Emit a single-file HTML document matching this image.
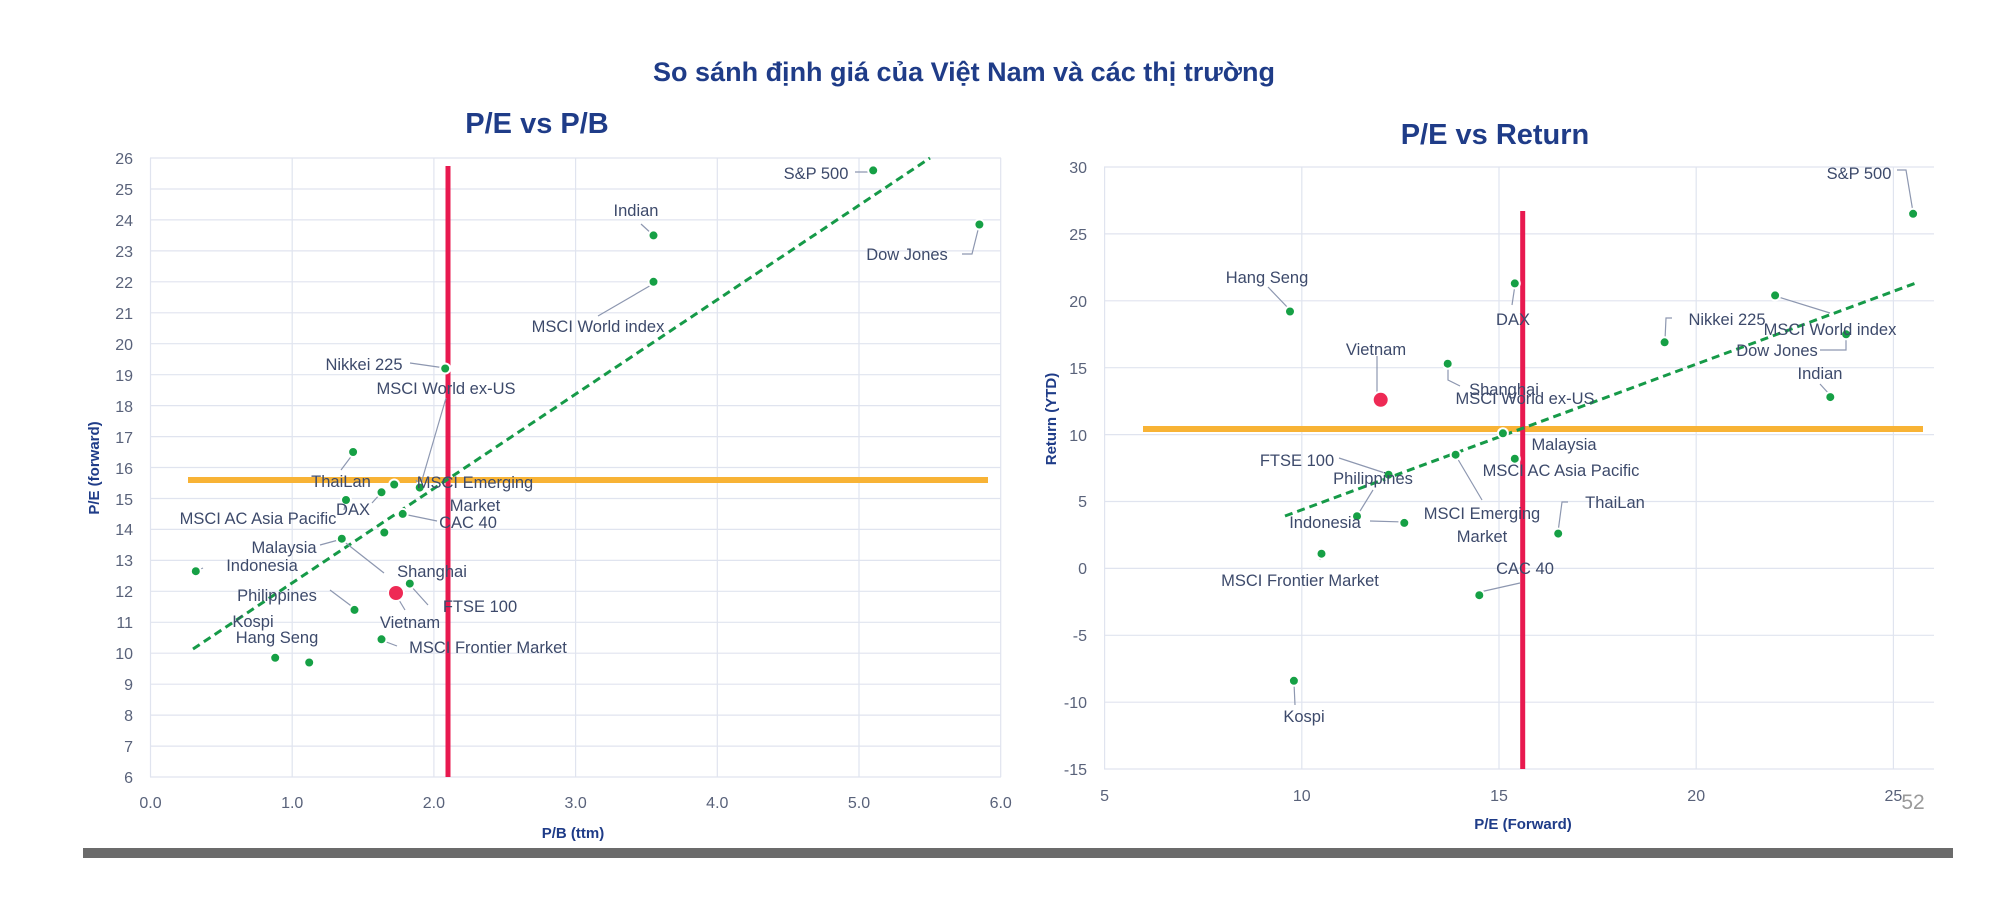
<!DOCTYPE html>
<html><head><meta charset="utf-8"><style>
body{margin:0;background:#fff;}
svg{display:block;font-family:"Liberation Sans","DejaVu Sans",sans-serif;}
.t{fill:#59627a;font-size:16px}
.l{fill:#3d4a6b;font-size:16.5px}
.g{stroke:#e0e4ef;stroke-width:1.2}
.pt{fill:#16a045;stroke:#fff;stroke-width:2}
.ld{stroke:#8d97b0;stroke-width:1.2;fill:none}
</style></head><body>
<svg width="2000" height="900" viewBox="0 0 2000 900">
<text x="964" y="81" text-anchor="middle" font-size="27" font-weight="bold" fill="#1f3c88">So sánh định giá của Việt Nam và các thị trường</text>
<text x="537" y="133" text-anchor="middle" font-size="29" font-weight="bold" fill="#1f3c88">P/E vs P/B</text>
<text x="1495" y="144" text-anchor="middle" font-size="29" font-weight="bold" fill="#1f3c88">P/E vs Return</text>

<!-- LEFT grid -->
<g class="g">
<line x1="150.5" y1="158" x2="150.5" y2="777"/><line x1="292.2" y1="158" x2="292.2" y2="777"/><line x1="433.9" y1="158" x2="433.9" y2="777"/><line x1="575.6" y1="158" x2="575.6" y2="777"/><line x1="717.3" y1="158" x2="717.3" y2="777"/><line x1="859" y1="158" x2="859" y2="777"/><line x1="1000.7" y1="158" x2="1000.7" y2="777"/>
<line x1="150" y1="158" x2="1001" y2="158"/><line x1="150" y1="189" x2="1001" y2="189"/><line x1="150" y1="219.9" x2="1001" y2="219.9"/><line x1="150" y1="250.9" x2="1001" y2="250.9"/><line x1="150" y1="281.8" x2="1001" y2="281.8"/><line x1="150" y1="312.8" x2="1001" y2="312.8"/><line x1="150" y1="343.7" x2="1001" y2="343.7"/><line x1="150" y1="374.7" x2="1001" y2="374.7"/><line x1="150" y1="405.6" x2="1001" y2="405.6"/><line x1="150" y1="436.6" x2="1001" y2="436.6"/><line x1="150" y1="467.5" x2="1001" y2="467.5"/><line x1="150" y1="498.5" x2="1001" y2="498.5"/><line x1="150" y1="529.4" x2="1001" y2="529.4"/><line x1="150" y1="560.4" x2="1001" y2="560.4"/><line x1="150" y1="591.3" x2="1001" y2="591.3"/><line x1="150" y1="622.3" x2="1001" y2="622.3"/><line x1="150" y1="653.2" x2="1001" y2="653.2"/><line x1="150" y1="684.2" x2="1001" y2="684.2"/><line x1="150" y1="715.1" x2="1001" y2="715.1"/><line x1="150" y1="746.1" x2="1001" y2="746.1"/><line x1="150" y1="777" x2="1001" y2="777"/>
</g>
<g class="t" text-anchor="end">
<text x="133" y="164">26</text><text x="133" y="195">25</text><text x="133" y="226">24</text><text x="133" y="257">23</text><text x="133" y="288">22</text><text x="133" y="319">21</text><text x="133" y="350">20</text><text x="133" y="381">19</text><text x="133" y="412">18</text><text x="133" y="443">17</text><text x="133" y="474">16</text><text x="133" y="505">15</text><text x="133" y="535">14</text><text x="133" y="566">13</text><text x="133" y="597">12</text><text x="133" y="628">11</text><text x="133" y="659">10</text><text x="133" y="690">9</text><text x="133" y="721">8</text><text x="133" y="752">7</text><text x="133" y="783">6</text>
</g>
<g class="t" text-anchor="middle">
<text x="150.5" y="808">0.0</text><text x="292.2" y="808">1.0</text><text x="433.9" y="808">2.0</text><text x="575.6" y="808">3.0</text><text x="717.3" y="808">4.0</text><text x="859" y="808">5.0</text><text x="1000.7" y="808">6.0</text>
</g>
<text x="573" y="838" text-anchor="middle" font-size="15" font-weight="bold" fill="#1f3c88">P/B (ttm)</text>
<text transform="translate(99,468) rotate(-90)" text-anchor="middle" font-size="15" font-weight="bold" fill="#1f3c88">P/E (forward)</text>

<line x1="188" y1="480" x2="988" y2="480" stroke="#f8b335" stroke-width="6"/>
<line x1="448" y1="166" x2="448" y2="777" stroke="#e8194f" stroke-width="5"/>
<line x1="193" y1="649" x2="930" y2="158" stroke="#169a48" stroke-width="3" stroke-dasharray="8,5"/>

<g class="ld">
<path d="M855 172 H873"/><path d="M641 224 L653 235"/><path d="M962 254 H972 L979 226"/><path d="M598 316 L653 284"/><path d="M410 363 L445 368"/><path d="M446 398 L420 487"/><path d="M341 470 L353 454"/><path d="M416 480 L420 487"/><path d="M372 503 L381 493"/><path d="M344 510 L346 500"/><path d="M437 521 L403 514"/><path d="M320 545 L342 539"/><path d="M203 568 L196 571"/><path d="M384 573 L342 540"/><path d="M428 605 L410 585"/><path d="M330 590 L354 608"/><path d="M405 610 L396 595"/><path d="M397 646 L381 640"/>
</g>
<g>
<circle class="pt" cx="873.2" cy="170.4" r="5"/><circle class="pt" cx="653.5" cy="235.4" r="5"/><circle class="pt" cx="979.4" cy="224.5" r="5"/><circle class="pt" cx="653.5" cy="281.8" r="5"/><circle class="pt" cx="445.2" cy="368.5" r="5"/><circle class="pt" cx="353.1" cy="452" r="5"/><circle class="pt" cx="394.2" cy="484.5" r="5"/><circle class="pt" cx="419.7" cy="487.6" r="5"/><circle class="pt" cx="381.5" cy="492.3" r="5"/><circle class="pt" cx="346" cy="500" r="5"/><circle class="pt" cx="402.7" cy="513.9" r="5"/><circle class="pt" cx="384.3" cy="532.5" r="5"/><circle class="pt" cx="341.8" cy="538.7" r="5"/><circle class="pt" cx="195.8" cy="571.2" r="5"/><circle class="pt" cx="409.8" cy="583.6" r="5"/><circle class="pt" cx="354.5" cy="609.9" r="5"/><circle class="pt" cx="381.5" cy="639.3" r="5"/><circle class="pt" cx="275.2" cy="657.8" r="5"/><circle class="pt" cx="309.2" cy="662.5" r="5"/>
<circle cx="396" cy="593" r="8" fill="#ee2a55" stroke="#fff" stroke-width="2"/>
</g>
<g class="l" text-anchor="middle">
<text x="816" y="179">S&amp;P 500</text><text x="636" y="216">Indian</text><text x="907" y="260">Dow Jones</text><text x="598" y="332">MSCI World index</text><text x="364" y="370">Nikkei 225</text><text x="446" y="394">MSCI World ex-US</text><text x="341" y="487">ThaiLan</text><text x="475" y="488">MSCI Emerging</text><text x="475" y="511">Market</text><text x="353" y="515">DAX</text><text x="258" y="524">MSCI AC Asia Pacific</text><text x="468" y="528">CAC 40</text><text x="284" y="553">Malaysia</text><text x="262" y="571">Indonesia</text><text x="432" y="577">Shanghai</text><text x="277" y="601">Philippines</text><text x="480" y="612">FTSE 100</text><text x="410" y="628">Vietnam</text><text x="253" y="627">Kospi</text><text x="277" y="643">Hang Seng</text><text x="488" y="653">MSCI Frontier Market</text>
</g>

<!-- RIGHT grid -->
<g class="g">
<line x1="1104.6" y1="167" x2="1104.6" y2="769"/><line x1="1301.8" y1="167" x2="1301.8" y2="769"/><line x1="1499" y1="167" x2="1499" y2="769"/><line x1="1696.2" y1="167" x2="1696.2" y2="769"/><line x1="1893.4" y1="167" x2="1893.4" y2="769"/>
<line x1="1104" y1="167" x2="1934" y2="167"/><line x1="1104" y1="233.9" x2="1934" y2="233.9"/><line x1="1104" y1="300.8" x2="1934" y2="300.8"/><line x1="1104" y1="367.7" x2="1934" y2="367.7"/><line x1="1104" y1="434.6" x2="1934" y2="434.6"/><line x1="1104" y1="501.5" x2="1934" y2="501.5"/><line x1="1104" y1="568.4" x2="1934" y2="568.4"/><line x1="1104" y1="635.3" x2="1934" y2="635.3"/><line x1="1104" y1="702.2" x2="1934" y2="702.2"/><line x1="1104" y1="769" x2="1934" y2="769"/>
</g>
<g class="t" text-anchor="end">
<text x="1087" y="173">30</text><text x="1087" y="240">25</text><text x="1087" y="307">20</text><text x="1087" y="374">15</text><text x="1087" y="441">10</text><text x="1087" y="507">5</text><text x="1087" y="574">0</text><text x="1087" y="641">-5</text><text x="1087" y="708">-10</text><text x="1087" y="775">-15</text>
</g>
<g class="t" text-anchor="middle">
<text x="1104.6" y="801">5</text><text x="1301.8" y="801">10</text><text x="1499" y="801">15</text><text x="1696.2" y="801">20</text><text x="1893.4" y="801">25</text>
</g>
<text x="1913" y="809" text-anchor="middle" font-size="21" fill="#9a9a9a">52</text>
<text x="1523" y="829" text-anchor="middle" font-size="15" font-weight="bold" fill="#1f3c88">P/E (Forward)</text>
<text transform="translate(1056,419) rotate(-90)" text-anchor="middle" font-size="15" font-weight="bold" fill="#1f3c88">Return (YTD)</text>

<line x1="1143" y1="429" x2="1923" y2="429" stroke="#f8b335" stroke-width="6"/>
<line x1="1522.7" y1="211" x2="1522.7" y2="769" stroke="#e8194f" stroke-width="5"/>
<line x1="1285" y1="516" x2="1916" y2="283" stroke="#169a48" stroke-width="3" stroke-dasharray="8,5"/>

<g class="ld">
<path d="M1897 170 H1906 L1913 212"/><path d="M1268 287 L1290 310"/><path d="M1512 305 L1515 285"/><path d="M1672 318 H1666 L1665 340"/><path d="M1775 296 L1830 313"/><path d="M1820 350 H1846 L1846 336"/><path d="M1820 384 L1830 395"/><path d="M1377 356 V398"/><path d="M1448 366 V380 L1460 386"/><path d="M1339 458 L1388 474"/><path d="M1373 490 L1357 516"/><path d="M1370 521 L1404 522"/><path d="M1568 502 H1562 L1558 532"/><path d="M1320 560 L1321 555"/><path d="M1480 592 L1520 583"/><path d="M1295 705 L1294 683"/><path d="M1482 500 L1456 456"/>
</g>
<g>
<circle class="pt" cx="1913.1" cy="213.8" r="5"/><circle class="pt" cx="1290" cy="311.5" r="5"/><circle class="pt" cx="1514.8" cy="283.4" r="5"/><circle class="pt" cx="1664.6" cy="342.3" r="5"/><circle class="pt" cx="1775.1" cy="295.4" r="5"/><circle class="pt" cx="1846.1" cy="334.3" r="5"/><circle class="pt" cx="1830.3" cy="397.1" r="5"/><circle class="pt" cx="1447.7" cy="363.7" r="5"/><circle class="pt" cx="1502.9" cy="433.3" r="5"/><circle class="pt" cx="1514.8" cy="458.7" r="5"/><circle class="pt" cx="1455.6" cy="454.7" r="5"/><circle class="pt" cx="1388.6" cy="474.7" r="5"/><circle class="pt" cx="1357" cy="516.2" r="5"/><circle class="pt" cx="1404.3" cy="522.9" r="5"/><circle class="pt" cx="1558.2" cy="533.6" r="5"/><circle class="pt" cx="1321.5" cy="553.7" r="5"/><circle class="pt" cx="1479.3" cy="595.2" r="5"/><circle class="pt" cx="1293.9" cy="680.8" r="5"/>
<circle cx="1380.7" cy="399.8" r="8" fill="#ee2a55" stroke="#fff" stroke-width="2"/>
</g>
<g class="l" text-anchor="middle">
<text x="1859" y="179">S&amp;P 500</text><text x="1267" y="283">Hang Seng</text><text x="1513" y="325">DAX</text><text x="1727" y="325">Nikkei 225</text><text x="1830" y="335">MSCI World index</text><text x="1777" y="356">Dow Jones</text><text x="1820" y="379">Indian</text><text x="1376" y="355">Vietnam</text><text x="1504" y="395">Shanghai</text><text x="1525" y="404">MSCI World ex-US</text><text x="1564" y="450">Malaysia</text><text x="1297" y="466">FTSE 100</text><text x="1561" y="476">MSCI AC Asia Pacific</text><text x="1373" y="484">Philippines</text><text x="1482" y="519">MSCI Emerging</text><text x="1482" y="542">Market</text><text x="1615" y="508">ThaiLan</text><text x="1325" y="528">Indonesia</text><text x="1300" y="586">MSCI Frontier Market</text><text x="1525" y="574">CAC 40</text><text x="1304" y="722">Kospi</text>
</g>

<rect x="83" y="848" width="1870" height="10" fill="#6b6b6b"/>
</svg>
</body></html>
